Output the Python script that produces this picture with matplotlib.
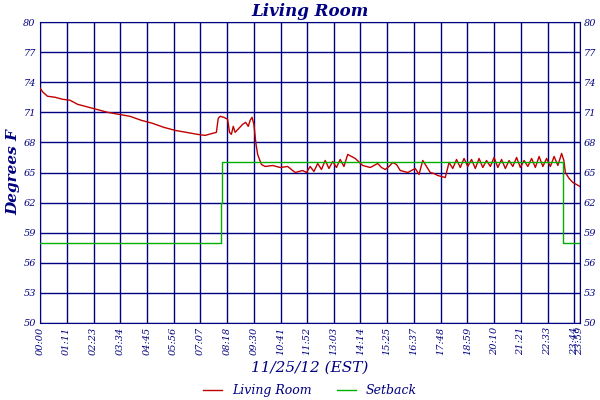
import matplotlib
matplotlib.use("Agg")
import matplotlib.pyplot as plt

# minutes since midnight, temperature (deg F)
room_min = [0, 8, 20, 40, 60, 80, 100, 120, 150, 180, 210, 240, 270, 300, 330, 360,
            390, 420, 440, 460, 470, 475, 480, 490, 500, 505, 510, 515, 520, 530, 540, 548,
            555, 560, 565, 570, 575, 580, 590, 600, 620, 640, 660, 680, 700, 710, 720,
            730, 740, 750, 760, 770, 780, 790, 800, 810, 820, 840, 860, 880, 900, 910, 920,
            930, 940, 950, 960, 980, 1000, 1010, 1020, 1030, 1040, 1050, 1060, 1070, 1080,
            1090, 1100, 1110, 1120, 1130, 1140, 1150, 1160, 1170, 1180, 1190, 1200, 1210,
            1220, 1230, 1240, 1250, 1260, 1270, 1280, 1290, 1300, 1310, 1320, 1330, 1340,
            1350, 1360, 1370, 1380, 1390, 1396, 1400, 1410, 1420, 1430, 1439]
room_temp = [73.4, 73.0, 72.6, 72.5, 72.3, 72.2, 71.8, 71.6, 71.3, 71.0, 70.8, 70.6, 70.2,
             69.9, 69.5, 69.2, 69.0, 68.8, 68.7, 68.9, 69.0, 70.4, 70.6, 70.5, 70.3, 69.0,
             68.8, 69.6, 69.0, 69.4, 69.8, 70.0, 69.6, 70.2, 70.5, 69.8, 68.0, 66.8, 65.8,
             65.6, 65.7, 65.5, 65.6, 65.0, 65.2, 65.0, 65.6, 65.1, 65.9, 65.3, 66.2, 65.4,
             66.1, 65.5, 66.3, 65.6, 66.8, 66.4, 65.7, 65.5, 65.9, 65.5, 65.3, 65.6, 66.0,
             65.8, 65.2, 65.0, 65.4, 64.8, 66.2, 65.6, 65.0, 64.9, 64.7, 64.6, 64.5, 66.0,
             65.4, 66.3, 65.5, 66.4, 65.6, 66.3, 65.4, 66.4, 65.5, 66.2, 65.6, 66.5, 65.5,
             66.3, 65.4, 66.2, 65.6, 66.5, 65.5, 66.2, 65.6, 66.4, 65.5, 66.6, 65.6, 66.4,
             65.6, 66.6, 65.7, 66.9, 66.2, 65.0, 64.4, 64.0, 63.8, 63.6]

setback_min = [0, 483, 483, 486, 486, 1393, 1393, 1439]
setback_temp = [58, 58, 62, 62, 66, 66, 58, 58]

tick_min = [0, 71, 143, 214, 285, 356, 427, 498, 570, 641, 712, 783, 854, 925, 997,
            1068, 1139, 1210, 1281, 1353, 1424, 1439]
tick_labels = ["00:00", "01:11", "02:23", "03:34", "04:45", "05:56", "07:07", "08:18",
               "09:30", "10:41", "11:52", "13:03", "14:14", "15:25", "16:37", "17:48",
               "18:59", "20:10", "21:21", "22:33", "23:44", "23:59"]
y_ticks = [50, 53, 56, 59, 62, 65, 68, 71, 74, 77, 80]

navy = "#000080"
plt.rcParams["font.family"] = "DejaVu Serif"

fig = plt.figure(figsize=(6, 4), dpi=100)
ax = fig.add_axes([40 / 600, 1 - 323 / 400, 540 / 600, 301 / 400])

ax.plot(room_min, room_temp, color="#c00000", lw=1, label="Living Room", zorder=3)
ax.plot(setback_min, setback_temp, color="#00b000", lw=1, label="Setback", zorder=3)

ax.set_xlim(0, 1439)
ax.set_ylim(50, 80)
ax.set_xticks(tick_min)
ax.set_xticklabels(tick_labels, rotation=90, fontsize=7, style="italic", color=navy)
ax.set_yticks(y_ticks)
ax.set_yticklabels(y_ticks, fontsize=7, style="italic", color=navy)
ax.tick_params(length=0, labelright=True, pad=3)
ax.grid(True, color=navy, lw=1)
for s in ax.spines.values():
    s.set_color(navy)

ax.set_title("Living Room", fontsize=12, style="italic", weight="bold", color=navy, pad=4)
ax.set_ylabel("Degrees F", fontsize=11, style="italic", weight="bold", color=navy, labelpad=2)
ax.set_xlabel("11/25/12 (EST)", fontsize=11, style="italic", color=navy, labelpad=4)
leg = ax.legend(loc="center", bbox_to_anchor=(0.5, -0.225), ncol=2, frameon=False,
                handlelength=1.5, prop={"style": "italic", "size": 9})
for t in leg.get_texts():
    t.set_color(navy)

fig.savefig("out.png", dpi=100)
